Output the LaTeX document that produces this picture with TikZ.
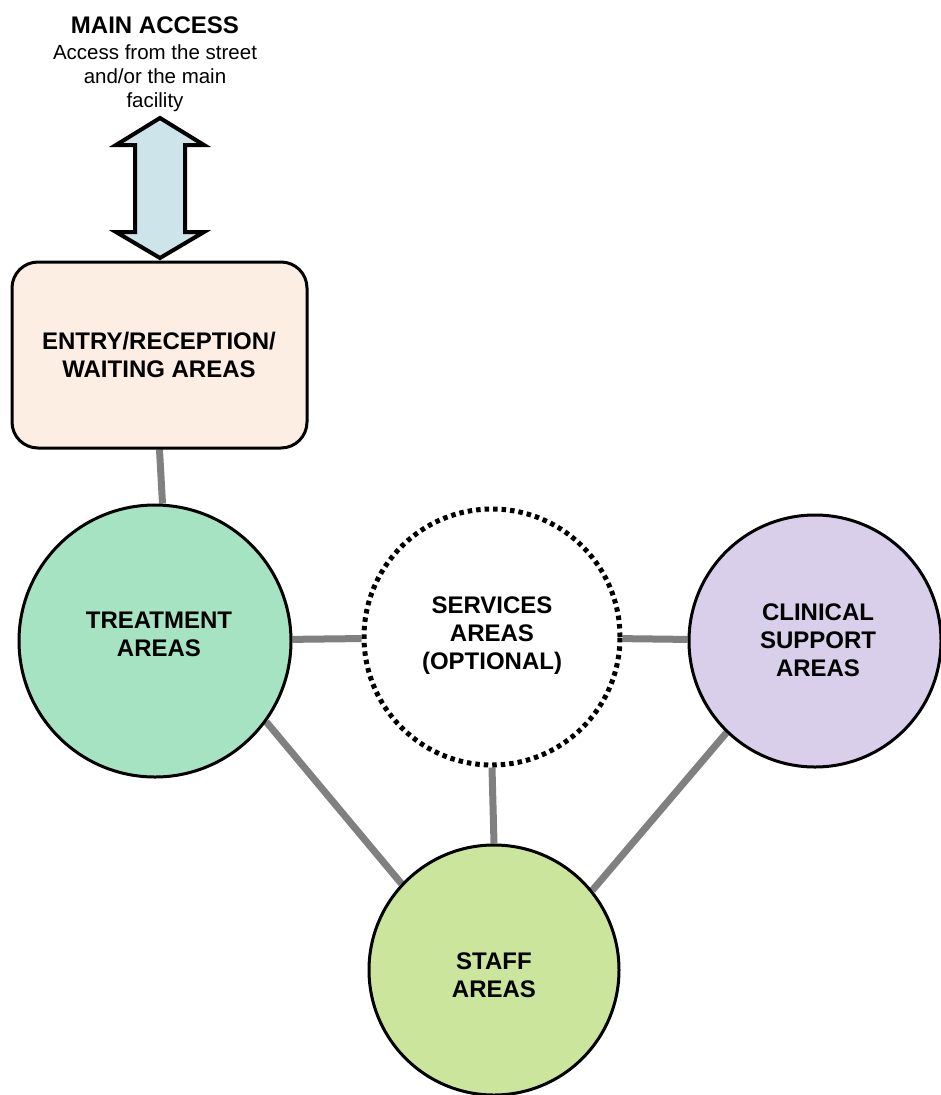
\documentclass[tikz,border=0pt]{standalone}
\usepackage{fontspec}
\setmainfont{Liberation Sans}
\usetikzlibrary{backgrounds}
\definecolor{boxfill}{HTML}{FDEEE4}
\definecolor{arrowfill}{HTML}{CCE4EA}
\definecolor{treatfill}{HTML}{A6E3C3}
\definecolor{stafffill}{HTML}{CBE59D}
\definecolor{clinfill}{HTML}{DACFEA}
\definecolor{linkgray}{HTML}{808080}
\tikzset{
  area/.style={circle, draw=black, line width=3pt, inner sep=0pt},
  dotarea/.style={circle, draw=black, line width=5pt, dash pattern=on 4.5pt off 4pt, inner sep=0pt},
  lbl/.style={align=center, font=\fontsize{24}{28}\selectfont\bfseries},
  link/.style={draw=linkgray, line width=7pt}
}
\begin{document}
\begin{tikzpicture}[x=1pt,y=-1pt]
\useasboundingbox (0,0) rectangle (941,1095);
% title
\node[font=\fontsize{24}{28}\selectfont\bfseries, anchor=base] (title) at (155,33) {MAIN ACCESS};
\node[align=center, font=\fontsize{20.5}{24}\selectfont] (sub) at (155,78) {Access from the street\\and/or the main\\facility};
% double arrow
\draw[line width=4pt, fill=arrowfill, line join=miter]
  (160,118) -- (204,145) -- (185,145) -- (185,232) -- (204,232) -- (160,258)
  -- (116,232) -- (135,232) -- (135,145) -- (116,145) -- cycle;
% entry box
\node[draw=black, line width=3pt, fill=boxfill, rounded corners=26pt,
      minimum width=295pt, minimum height=186pt, inner sep=0pt] (entry) at (159.5,355) {};
\node[lbl] (entrytxt) at (159,355) {ENTRY/RECEPTION/\\WAITING AREAS};
% circles
\node[area, fill=treatfill, minimum size=272pt] (treat) at (155,641) {};
\node[dotarea, fill=white, minimum size=256pt] (serv) at (492,637) {};
\node[area, fill=clinfill, minimum size=252pt] (clin) at (815,641) {};
\node[area, fill=stafffill, minimum size=250pt] (staff) at (494,970) {};
% labels
\node[lbl] (treattxt) at (159,634) {TREATMENT\\AREAS};
\node[lbl] (servtxt) at (492,636) {SERVICES\\AREAS\\(OPTIONAL)};
\node[lbl] (clintxt) at (818,640) {CLINICAL\\SUPPORT\\AREAS};
\node[lbl] (stafftxt) at (494,975) {STAFF\\AREAS};
% links
\begin{pgfonlayer}{background}
\draw[link] (entry.south) -- ([xshift=3pt]entry.south |- treat.north);
\draw[link] (treat) -- (serv);
\draw[link] (serv) -- (clin);
\draw[link] (serv.south) -- (staff.north);
\draw[link] (treat.-36) -- (staff.137);
\draw[link] (clin.-134) -- (staff.39);
\end{pgfonlayer}
\end{tikzpicture}
\end{document}
